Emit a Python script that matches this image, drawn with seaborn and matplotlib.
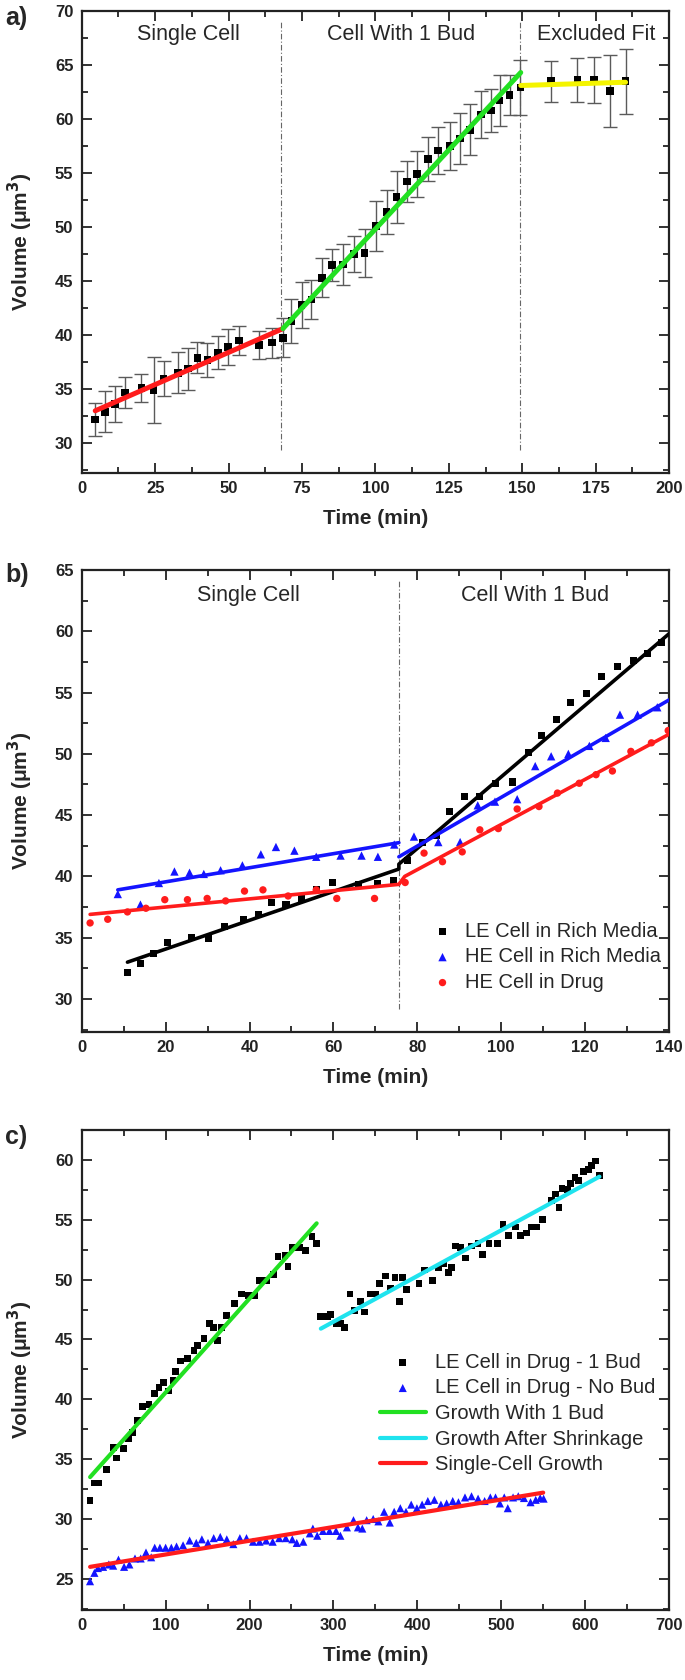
import matplotlib
matplotlib.use('Agg')
import matplotlib.pyplot as plt
import seaborn as sns
from matplotlib.ticker import MultipleLocator

# -------------------------
# Panel a data: one LE cell with error bars
# -------------------------
a_time = [4.6, 7.9, 11.3, 14.8, 20.3, 24.5, 27.9, 32.7, 36.1, 39.4, 42.8, 46.4, 49.8, 53.6, 60.3,
          64.7, 68.5, 71.4, 74.9, 78.2, 81.9, 85.2, 88.9, 92.8, 96.3, 100.2, 103.8, 107.2, 110.7, 114.2,
          118.0, 121.4, 125.4, 128.9, 132.3, 135.9, 139.3, 142.3, 145.7, 149.4, 159.9, 168.8, 174.4, 179.9, 185.2]
a_volume = [32.2, 32.9, 33.6, 34.7, 35.1, 34.95, 36.0, 36.5, 36.9, 37.9, 37.7, 38.4, 38.9, 39.5, 39.1,
            39.3, 39.75, 41.3, 42.8, 43.3, 45.3, 46.5, 46.55, 47.5, 47.6, 50.1, 51.4, 52.8, 54.2, 54.9,
            56.3, 57.1, 57.5, 58.2, 59.0, 60.4, 60.8, 61.7, 62.2, 62.9, 63.5, 63.6, 63.6, 62.6, 63.5]
a_err = [1.5, 1.9, 1.65, 1.4, 1.3, 3.05, 1.65, 1.9, 1.95, 1.45, 1.6, 1.5, 1.7, 1.35, 1.3,
         1.4, 1.8, 2.0, 2.1, 1.8, 1.8, 1.5, 1.9, 1.7, 2.2, 2.3, 2.0, 2.4, 1.9, 2.1,
         2.0, 2.2, 2.25, 2.35, 2.35, 2.15, 2.0, 2.35, 1.85, 2.55, 1.9, 2.05, 2.1, 3.3, 3.0]
a_fit_single_t = [4.6, 68.5]
a_fit_single_v = [33.0, 40.6]
a_fit_bud_t = [68.5, 149.5]
a_fit_bud_v = [40.6, 64.3]
a_fit_excl_t = [149.5, 185.2]
a_fit_excl_v = [63.1, 63.4]
a_bounds = [68.0, 149.4]
a_regions = ["Single Cell", "Cell With 1 Bud", "Excluded Fit"]
a_region_x = [36.4, 108.7, 175.1]

# -------------------------
# Panel b data
# -------------------------
b_le_t = [10.9, 14.0, 17.1, 20.5, 26.2, 30.3, 34.1, 38.5, 42.2, 45.3, 48.7, 52.4, 55.9, 59.7, 66.0,
          70.6, 74.3, 77.7, 81.2, 84.5, 87.6, 91.2, 94.9, 98.7, 102.7, 106.4, 109.7, 113.2, 116.6, 120.3,
          123.9, 127.8, 131.6, 134.9, 138.2]
b_le_v = [32.14, 32.87, 33.7, 34.6, 35.0, 34.96, 35.9, 36.5, 36.9, 37.9, 37.7, 38.2, 38.9, 39.5, 39.3,
          39.4, 39.7, 41.3, 42.8, 43.3, 45.3, 46.5, 46.5, 47.6, 47.7, 50.1, 51.5, 52.8, 54.2, 54.9,
          56.3, 57.15, 57.6, 58.2, 59.05]
b_he_t = [8.6, 14.0, 18.4, 22.1, 25.7, 29.1, 33.1, 38.3, 42.7, 46.3, 50.7, 55.9, 61.7, 66.7, 70.6,
          74.5, 79.2, 85.0, 90.2, 94.4, 98.5, 103.8, 108.1, 111.9, 116.0, 121.0, 124.9, 128.3, 132.5, 137.2]
b_he_v = [38.56, 37.7, 39.46, 40.4, 40.3, 40.2, 40.5, 40.9, 41.8, 42.4, 42.1, 41.6, 41.7, 41.7, 41.6,
          42.6, 43.25, 42.8, 42.8, 45.8, 46.1, 46.3, 49.0, 49.8, 50.0, 50.65, 51.3, 53.2, 53.2, 53.8]
b_drug_t = [2.0, 6.2, 10.9, 15.3, 19.8, 25.2, 29.9, 34.3, 38.8, 43.2, 49.2, 55.9, 60.8, 69.8, 77.1,
            81.6, 86.0, 90.7, 94.9, 99.3, 103.8, 109.0, 113.4, 118.6, 122.6, 126.5, 130.9, 135.8, 139.8]
b_drug_v = [36.2, 36.5, 37.1, 37.4, 38.1, 38.1, 38.2, 38.0, 38.8, 38.9, 38.4, 38.9, 38.2, 38.2, 39.5,
            41.9, 41.2, 42.0, 43.8, 43.9, 45.5, 45.7, 46.8, 47.6, 48.3, 48.6, 50.2, 50.9, 51.9]
b_le_fit_t = [10.9, 75.6, 75.6, 140.0]
b_le_fit_v = [33.0, 40.6, 41.0, 59.8]
b_he_fit1_t = [8.6, 75.6]
b_he_fit1_v = [38.9, 42.75]
b_he_fit2_t = [75.6, 140.0]
b_he_fit2_v = [41.6, 54.4]
b_drug_fit_t = [2.0, 75.6, 77.0, 140.0]
b_drug_fit_v = [36.9, 39.35, 40.0, 51.6]
b_bound = 75.6
b_regions = ["Single Cell", "Cell With 1 Bud"]
b_region_x = [39.8, 108.1]
b_labels = ["LE Cell in Rich Media", "HE Cell in Rich Media", "HE Cell in Drug"]

# -------------------------
# Panel c data
# -------------------------
c_bud_t = [9.9, 15.6, 20.3, 29.7, 37.5, 41.1, 49.5, 55.7, 60.9, 66.1, 72.4, 80.2, 87.0, 92.2, 97.4,
           103.6, 108.9, 112.0, 118.2, 126.0, 133.9, 138.0, 145.8, 152.1, 157.3, 161.5, 166.7, 173.0, 182.3, 190.1,
           199.0, 205.7, 212.0, 219.8, 228.6, 233.9, 242.2, 245.8, 251.0, 259.9, 266.7, 274.5, 279.7,
           284.9, 292.7, 296.4, 303.1, 308.3, 313.5, 319.8, 325.5, 331.8, 337.0, 343.8, 350.0, 355.2, 362.0, 368.2,
           373.4, 378.6, 382.8, 387.5, 402.1, 408.9, 417.7, 425.5, 431.8, 437.0, 441.1, 445.3, 451.6, 457.8, 464.6,
           472.4, 477.6, 485.4, 495.8, 502.1, 508.9, 516.7, 523.4, 529.7, 536.0, 542.7, 549.5, 559.9, 564.6, 568.8,
           572.4, 579.2, 582.8, 588.0, 592.2, 598.4, 604.2, 607.8, 612.0, 617.2]
c_bud_v = [31.56, 33.0, 33.0, 34.15, 36.0, 35.1, 35.9, 36.7, 37.2, 38.2, 39.4, 39.55, 40.5, 41.0, 41.4,
           40.7, 41.6, 42.3, 43.2, 43.4, 44.1, 44.5, 45.1, 46.3, 46.0, 44.9, 46.0, 47.0, 48.0, 48.8,
           48.7, 48.7, 49.9, 49.9, 50.4, 51.9, 52.0, 51.1, 52.7, 52.7, 52.4, 53.6, 53.0,
           46.9, 46.9, 47.1, 46.3, 46.3, 46.0, 48.8, 47.4, 48.2, 47.3, 48.8, 48.8, 49.7, 50.3, 49.3,
           50.2, 48.2, 50.2, 49.2, 49.7, 50.8, 49.9, 51.0, 51.3, 50.6, 51.0, 52.8, 52.7, 51.8, 52.8,
           53.0, 52.1, 53.0, 53.0, 54.6, 53.7, 54.4, 53.7, 53.9, 54.4, 54.4, 55.0, 56.6, 57.15, 56.0,
           57.6, 57.5, 58.0, 58.5, 58.3, 59.0, 59.2, 59.5, 59.9, 58.7]
c_nobud_t = [9.9, 15.1, 19.3, 25.5, 32.3, 37.5, 43.8, 50.5, 56.8, 63.5,
             70.3, 76.6, 82.8, 87.0, 93.2, 100.0, 106.8, 113.0, 120.8, 128.6,
             136.5, 143.2, 150.5, 157.3, 165.1, 172.9, 180.7, 188.5, 196.4, 204.2,
             212.0, 219.8, 227.6, 235.4, 243.2, 251.0, 256.3, 264.1, 271.9, 275.5,
             280.7, 287.5, 295.3, 303.1, 308.3, 316.1, 323.9, 329.2, 334.4, 339.6,
             347.4, 353.6, 360.4, 367.2, 372.4, 379.7, 386.5, 392.7, 399.5, 405.7,
             412.5, 420.3, 428.1, 434.9, 442.2, 449.0, 456.8, 464.6, 472.4, 480.2,
             487.0, 493.2, 498.4, 503.6, 507.8, 514.1, 520.3, 527.1, 534.9, 541.1,
             546.4, 550.5]
c_nobud_v = [24.8, 25.5, 25.9, 26.0, 26.2, 26.1, 26.6, 26.0, 26.2, 26.7,
             26.7, 27.2, 26.8, 27.6, 27.6, 27.6, 27.6, 27.7, 27.8, 28.2,
             28.0, 28.3, 28.0, 28.4, 28.5, 28.3, 27.9, 28.4, 28.4, 28.1,
             28.1, 28.2, 28.1, 28.4, 28.4, 28.3, 28.0, 28.1, 28.8, 29.2,
             28.6, 29.0, 29.0, 29.0, 28.6, 29.3, 29.9, 29.3, 29.2, 29.9,
             30.0, 29.8, 30.6, 29.7, 30.6, 30.9, 30.6, 31.2, 30.9, 31.2,
             31.5, 31.6, 31.2, 31.3, 31.5, 31.4, 31.8, 31.9, 31.7, 31.5,
             31.8, 31.8, 31.3, 31.8, 30.9, 31.8, 31.9, 31.75, 31.4, 31.6,
             31.75, 31.7]
c_fit_bud_t = [10.0, 280.0]
c_fit_bud_v = [33.5, 54.7]
c_fit_shr_t = [285.0, 617.0]
c_fit_shr_v = [45.9, 58.6]
c_fit_single_t = [10.0, 550.0]
c_fit_single_v = [26.0, 32.2]
c_labels = ["LE Cell in Drug - 1 Bud", "LE Cell in Drug - No Bud",
            "Growth With 1 Bud", "Growth After Shrinkage", "Single-Cell Growth"]

RED = '#ff1c1c'
GREEN = '#22e022'
YELLOW = '#f4f400'
CYAN = '#1fe3ee'
BLUE = '#1414ff'

sns.set_style('ticks')
plt.rcParams['font.family'] = ['Liberation Sans', 'DejaVu Sans']
plt.rcParams['font.weight'] = 'bold'
plt.rcParams['axes.labelweight'] = 'bold'
plt.rcParams['mathtext.default'] = 'bf'


def style_axis(ax, xlim, ylim, xmaj, ymaj):
    ax.set_xlim(*xlim)
    ax.set_ylim(*ylim)
    ax.xaxis.set_major_locator(MultipleLocator(xmaj))
    ax.xaxis.set_minor_locator(MultipleLocator(xmaj / 2))
    ax.yaxis.set_major_locator(MultipleLocator(ymaj))
    ax.yaxis.set_minor_locator(MultipleLocator(ymaj / 2))
    ax.tick_params(which='both', direction='in', top=True, right=True,
                   width=1.3, colors='#222222', labelsize=12, pad=6)
    ax.tick_params(which='major', length=7)
    ax.tick_params(which='minor', length=4)
    for s in ax.spines.values():
        s.set_linewidth(1.6)
        s.set_color('#222222')
    ax.set_xlabel('Time (min)', fontsize=15, labelpad=9)
    ax.set_ylabel('Volume (\u03bcm$^{3}$)', fontsize=15, labelpad=14)


def fit_line(ax, t, v, color, lw, label=None):
    sns.lineplot(x=t, y=v, ax=ax, color=color, linewidth=lw, estimator=None,
                 sort=False, label=label, zorder=4, legend=False)


fig = plt.figure(figsize=(6.85, 16.8), dpi=100)
ax_a = fig.add_axes([0.1193, 0.7185, 0.8574, 0.275])
ax_b = fig.add_axes([0.1193, 0.3857, 0.8574, 0.275])
ax_c = fig.add_axes([0.1193, 0.0417, 0.8574, 0.2857])

# -------------------------
# Plot a
# -------------------------
ax_a.errorbar(a_time, a_volume, yerr=a_err, fmt='none', ecolor='#5a5a5a',
              elinewidth=1, capsize=5, capthick=1, zorder=2)
sns.scatterplot(x=a_time, y=a_volume, ax=ax_a, marker='s', color='black',
                s=30, edgecolor='none', zorder=3)
fit_line(ax_a, a_fit_single_t, a_fit_single_v, RED, 3.6)
fit_line(ax_a, a_fit_bud_t, a_fit_bud_v, GREEN, 3.6)
fit_line(ax_a, a_fit_excl_t, a_fit_excl_v, YELLOW, 3.6)
ax_a.vlines(a_bounds, 29.4, 69.0, colors='#666666', linewidth=0.8,
            linestyles=(0, (5, 2, 1, 2)), zorder=1)
for name, x in zip(a_regions, a_region_x):
    ax_a.text(x, 67.8, name, ha='center', va='center', fontsize=15.5, fontweight='normal')
style_axis(ax_a, (0, 200), (27.25, 70), 25, 5)

# -------------------------
# Plot b
# -------------------------
sns.scatterplot(x=b_le_t, y=b_le_v, ax=ax_b, marker='s', color='black', s=26,
                edgecolor='none', label=b_labels[0], zorder=3)
sns.scatterplot(x=b_he_t, y=b_he_v, ax=ax_b, marker='^', color=BLUE, s=36,
                edgecolor='none', label=b_labels[1], zorder=3)
sns.scatterplot(x=b_drug_t, y=b_drug_v, ax=ax_b, marker='o', color=RED, s=28,
                edgecolor='none', label=b_labels[2], zorder=3)
fit_line(ax_b, b_le_fit_t, b_le_fit_v, 'black', 2.6)
fit_line(ax_b, b_he_fit1_t, b_he_fit1_v, BLUE, 2.6)
fit_line(ax_b, b_he_fit2_t, b_he_fit2_v, BLUE, 2.6)
fit_line(ax_b, b_drug_fit_t, b_drug_fit_v, RED, 2.6)
ax_b.vlines([b_bound], 29.2, 64.1, colors='#666666', linewidth=0.8,
            linestyles=(0, (5, 2, 1, 2)), zorder=1)
for name, x in zip(b_regions, b_region_x):
    ax_b.text(x, 62.9, name, ha='center', va='center', fontsize=15.5, fontweight='normal')
style_axis(ax_b, (0, 140), (27.3, 65), 20, 5)
h, l = ax_b.get_legend_handles_labels()
order = [l.index(name) for name in b_labels]
ax_b.legend([h[i] for i in order], [l[i] for i in order], loc='upper left',
            bbox_to_anchor=(0.58, 0.26), frameon=False, handlelength=1.0,
            handletextpad=0.6, labelspacing=0.32, borderpad=0,
            prop={'weight': 'normal', 'size': 14.5})

# -------------------------
# Plot c
# -------------------------
sns.scatterplot(x=c_bud_t, y=c_bud_v, ax=ax_c, marker='s', color='black', s=24,
                edgecolor='none', label=c_labels[0], zorder=3)
sns.scatterplot(x=c_nobud_t, y=c_nobud_v, ax=ax_c, marker='^', color=BLUE, s=34,
                edgecolor='none', label=c_labels[1], zorder=3)
fit_line(ax_c, c_fit_bud_t, c_fit_bud_v, GREEN, 3.0, c_labels[2])
fit_line(ax_c, c_fit_shr_t, c_fit_shr_v, CYAN, 3.0, c_labels[3])
fit_line(ax_c, c_fit_single_t, c_fit_single_v, RED, 3.0, c_labels[4])
style_axis(ax_c, (0, 700), (22.4, 62.5), 100, 5)
h, l = ax_c.get_legend_handles_labels()
order = [l.index(name) for name in c_labels]
ax_c.legend([h[i] for i in order], [l[i] for i in order], loc='upper left',
            bbox_to_anchor=(0.49, 0.557), frameon=False, handlelength=2.3,
            handletextpad=0.45, labelspacing=0.33, borderpad=0,
            prop={'weight': 'normal', 'size': 14.5})

# panel letters
fig.text(0.008, 1 - 18 / 1680, 'a)', fontsize=18, fontweight='bold', va='center')
fig.text(0.008, 1 - 575 / 1680, 'b)', fontsize=18, fontweight='bold', va='center')
fig.text(0.008, 1 - 1137 / 1680, 'c)', fontsize=18, fontweight='bold', va='center')

fig.savefig('out.png', dpi=100)
